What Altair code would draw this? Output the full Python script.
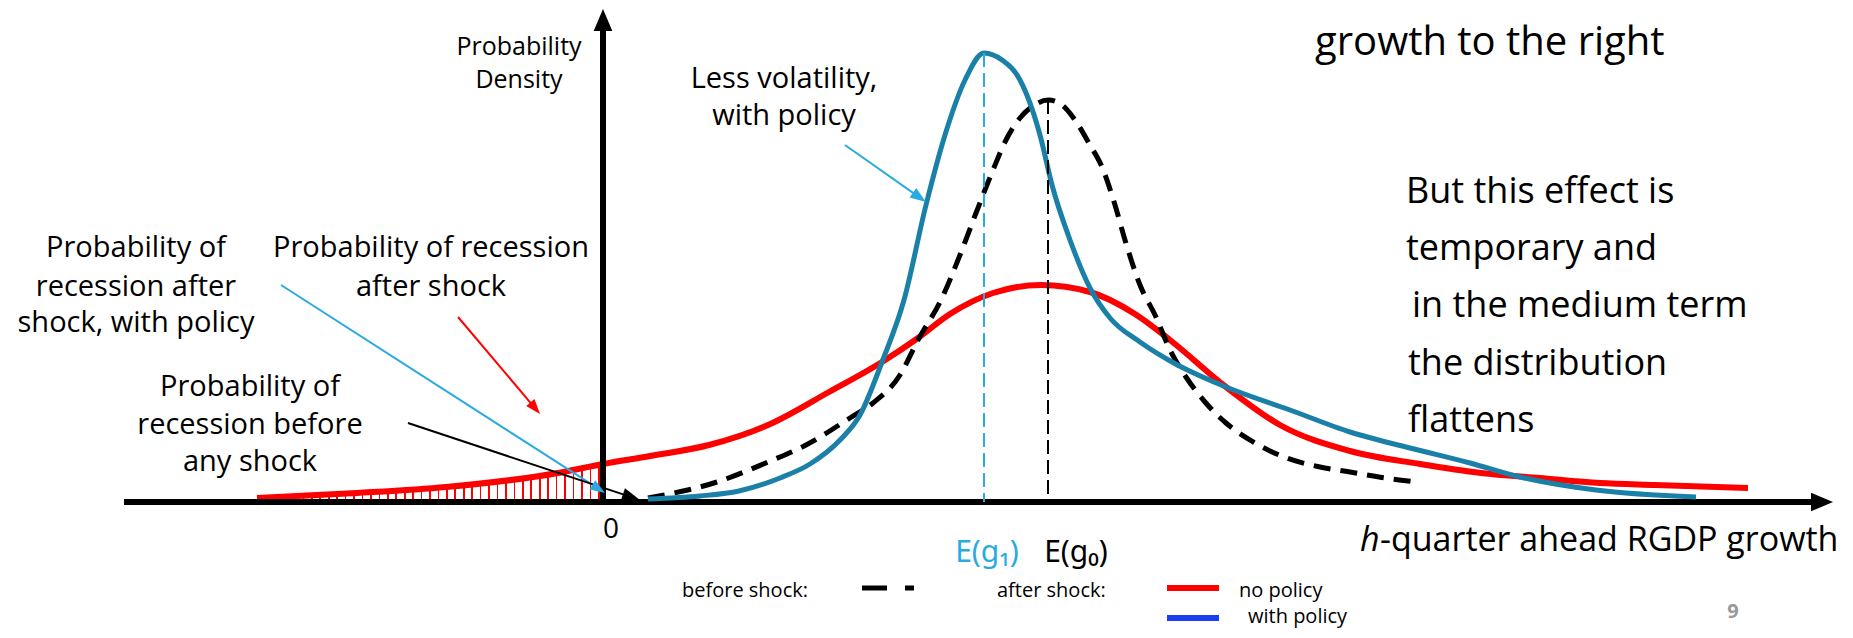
import math
import altair as alt
import pandas as pd

# ---------------- data (x: growth, y: density) ----------------
red_x = [-3.46, -2.46, -1.57, -0.45, 0.00, 0.47, 1.06, 1.65, 2.26, 2.79, 3.15, 3.47, 3.90,
         4.38, 4.87, 5.32, 5.67, 6.23, 6.77, 7.47, 8.17, 8.78, 9.37, 9.97, 10.52, 11.45]
red_y = [0.04, 0.09, 0.15, 0.29, 0.38, 0.46, 0.57, 0.77, 1.10, 1.40, 1.64, 1.88, 2.09,
         2.17, 2.10, 1.88, 1.62, 1.15, 0.77, 0.51, 0.38, 0.29, 0.24, 0.19, 0.17, 0.14]

blue_x = [0.45, 0.97, 1.36, 1.77, 2.07, 2.37, 2.57, 2.79, 3.01, 3.23, 3.42, 3.62, 3.81, 3.99, 4.17,
          4.37, 4.49, 4.67, 4.87, 5.07, 5.37, 5.69, 6.23, 6.87, 7.47, 8.07, 8.67, 9.17, 9.93, 10.93]
blue_y = [0.03, 0.06, 0.11, 0.24, 0.38, 0.62, 0.87, 1.40, 2.02, 2.97, 3.67, 4.22, 4.49, 4.42, 4.22,
          3.67, 3.17, 2.62, 2.14, 1.84, 1.60, 1.40, 1.15, 0.92, 0.70, 0.54, 0.39, 0.25, 0.12, 0.05]

black_x = [0.45, 1.14, 1.65, 2.03, 2.47, 2.70, 2.97, 3.15, 3.38, 3.57, 3.73, 3.90, 4.03, 4.17, 4.30, 4.45, 4.59,
           4.72, 4.87, 4.99, 5.12, 5.22, 5.37, 5.53, 5.67, 5.83, 6.02, 6.23, 6.52, 6.81, 7.17, 7.47, 7.82, 8.14]
black_y = [0.04, 0.20, 0.40, 0.57, 0.84, 0.99, 1.27, 1.62, 2.02, 2.47, 2.89, 3.32, 3.62, 3.84, 3.96, 4.02, 3.97,
           3.82, 3.57, 3.35, 2.97, 2.62, 2.17, 1.85, 1.52, 1.25, 1.00, 0.79, 0.59, 0.45, 0.35, 0.30, 0.24, 0.20]

# expected values E(g1), E(g0) and the densities at them
mean_x = [3.81, 4.45]
mean_top = [4.49, 4.02]
mean_bottom = [0.00, 0.07]
mean_color = ["#29abe2", "#000000"]

# annotation arrows (start -> tip)
arrow_x0 = [-3.22, -1.45, -1.95, 2.42]
arrow_y0 = [2.17, 1.85, 0.79, 3.57]
arrow_x1 = [0.02, -0.63, 0.37, 3.23]
arrow_y1 = [0.09, 0.88, 0.02, 3.00]
arrow_color = ["#29abe2", "#ff0000", "#000000", "#29abe2"]
arrow_head = [15, 15, 18, 16]

# axes (start -> tip)
axis_x0 = [-4.79, 0.00]
axis_y0 = [0.00, 0.00]
axis_x1 = [12.30, 0.00]
axis_y1 = [0.00, 4.93]

# texts
label_text = ["Probability of", "recession after", "shock, with policy",
              "Probability of recession", "after shock",
              "Probability of", "recession before", "any shock",
              "Less volatility,", "with policy"]
label_x = [-4.67, -4.67, -4.67, -1.72, -1.72, -3.53, -3.53, -3.53, 1.81, 1.81]
label_y = [2.45, 2.06, 1.70, 2.45, 2.06, 1.06, 0.68, 0.31, 4.14, 3.77]

ylab_text = ["Probability", "Density"]
ylab_x = [-0.84, -0.84]
ylab_y = [4.47, 4.14]

right_text = ["But this effect is", "temporary and", "in the medium term", "the distribution", "flattens"]
right_x = [8.03, 8.03, 8.09, 8.05, 8.05]
right_y = [2.99, 2.42, 1.85, 1.27, 0.70]

top_text = ["growth to the right"]
top_x = [7.12]
top_y = [4.47]

mean_label = ["E(g\u2081)", "E(g\u2080)"]
mean_label_x = [3.84, 4.73]
mean_label_y = [-0.60, -0.60]

# legend
leg_text = ["before shock:", "after shock:", "no policy", "with policy"]
leg_x = [0.79, 3.94, 6.36, 6.45]
leg_y = [-0.95, -0.95, -0.95, -1.21]
leg_dash_x0 = [2.59, 3.02]
leg_dash_x1 = [2.84, 3.11]
leg_dash_y = [-0.86, -0.86]
leg_line_x0 = [5.64, 5.64]
leg_line_x1 = [6.16, 6.16]
leg_line_y = [-0.86, -1.16]
leg_line_color = ["#ff0000", "#1a3ff0"]

# ---------------- scales ----------------
xs = alt.Scale(domain=[-5.95, 12.42], nice=False, zero=False)
ys = alt.Scale(domain=[-1.28, 4.94], nice=False, zero=False)


def X(f="x"):
    return alt.X(f"{f}:Q", scale=xs, axis=None)


def Y(f="y"):
    return alt.Y(f"{f}:Q", scale=ys, axis=None)


FONT = "Open Sans"

red_df = pd.DataFrame({"x": red_x, "y": red_y})
blue_df = pd.DataFrame({"x": blue_x, "y": blue_y})
black_df = pd.DataFrame({"x": black_x, "y": black_y})

# hatching: vertical red stripes as a hard-stop gradient
n_stripes = 41
w = 0.0048
stops = [{"offset": 0.0, "color": "#ffffff"}]
for i in range(n_stripes):
    o = (i + 0.5) / n_stripes
    stops += [{"offset": o - w / 2, "color": "#ffffff"},
              {"offset": o - w / 2, "color": "#ff0000"},
              {"offset": o + w / 2, "color": "#ff0000"},
              {"offset": o + w / 2, "color": "#ffffff"}]
stops.append({"offset": 1.0, "color": "#ffffff"})
stripes = {"gradient": "linear", "x1": 0, "x2": 1, "y1": 0, "y2": 0, "stops": stops}

hatch = (alt.Chart(red_df).transform_filter("datum.x <= 0")
         .transform_calculate(y0="0")
         .mark_area(interpolate="monotone", color=stripes)
         .encode(x=X(), y=Y(), y2=alt.Y2("y0:Q")))

red_line = alt.Chart(red_df).mark_line(color="#ff0000", strokeWidth=6, interpolate="monotone").encode(x=X(), y=Y())
blue_line = alt.Chart(blue_df).mark_line(color="#1b80a8", strokeWidth=5, interpolate="monotone").encode(x=X(), y=Y())
black_line = alt.Chart(black_df).mark_line(color="#000000", strokeWidth=5, strokeDash=[17, 10],
                                           interpolate="monotone").encode(x=X(), y=Y())

mean_df = pd.DataFrame({"x": mean_x, "y": mean_top, "y2": mean_bottom, "c": mean_color})
mean_lines = alt.Chart(mean_df).mark_rule(strokeWidth=2, strokeDash=[14, 6]).encode(
    x=X(), y=Y(), y2=alt.Y2("y2:Q"), color=alt.Color("c:N", scale=None))


def arrow_frames(x0, y0, x1, y1, heads):
    rows_l, rows_h = [], []
    for a, b, c, d, h in zip(x0, y0, x1, y1, heads):
        L = math.hypot(c - a, d - b)
        ux, uy = (c - a) / L, (d - b) / L
        back = h * 0.5 / 100.0
        rows_l.append({"x": a, "y": b, "x2": c - ux * back, "y2": d - uy * back})
        ang = (math.degrees(math.atan2(c - a, d - b)) + 360) % 360
        rows_h.append({"x": c, "y": d, "angle": ang, "size": h * h})
    return pd.DataFrame(rows_l), pd.DataFrame(rows_h)


al, ah = arrow_frames(arrow_x0, arrow_y0, arrow_x1, arrow_y1, arrow_head)
al["c"] = arrow_color
ah["c"] = arrow_color
arrow_lines = alt.Chart(al).mark_rule(strokeWidth=2).encode(
    x=X(), y=Y(), x2=alt.X2("x2:Q"), y2=alt.Y2("y2:Q"), color=alt.Color("c:N", scale=None))
arrow_heads = alt.Chart(ah).mark_point(shape="M0,0L0.72,2L-0.72,2Z", filled=True, opacity=1, strokeWidth=0).encode(
    x=X(), y=Y(), angle=alt.Angle("angle:Q", scale=None), size=alt.Size("size:Q", scale=None),
    color=alt.Color("c:N", scale=None))

xl, xh = arrow_frames(axis_x0, axis_y0, axis_x1, axis_y1, [22, 22])
axis_lines = alt.Chart(xl).mark_rule(strokeWidth=6, color="#000000").encode(
    x=X(), y=Y(), x2=alt.X2("x2:Q"), y2=alt.Y2("y2:Q"))
axis_heads = alt.Chart(xh).mark_point(shape="M0,0L0.85,2L-0.85,2Z", filled=True, opacity=1, strokeWidth=0,
                                      color="#000000").encode(
    x=X(), y=Y(), angle=alt.Angle("angle:Q", scale=None), size=alt.Size("size:Q", scale=None))


def txt(texts, xv, yv, align="center", size=28, color="#000000", font=FONT, style="normal", weight="normal"):
    df = pd.DataFrame({"x": xv, "y": yv, "t": texts})
    return alt.Chart(df).mark_text(align=align, baseline="alphabetic", fontSize=size, font=font, color=color,
                                   fontStyle=style, fontWeight=weight).encode(x=X(), y=Y(), text="t:N")


labels = txt(label_text, label_x, label_y, size=29)
ylabels = txt(ylab_text, ylab_x, ylab_y, size=25)
right = txt(right_text, right_x, right_y, align="left", size=36)
top = txt(top_text, top_x, top_y, align="left", size=40)
zero = txt(["0"], [0.08], [-0.36], size=28)
m1 = txt([mean_label[0]], [mean_label_x[0]], [mean_label_y[0]], size=30, color="#29abe2", font="Noto Sans")
m0 = txt([mean_label[1]], [mean_label_x[1]], [mean_label_y[1]], size=30, color="#000000", font="Noto Sans")
xh_italic = txt(["h"], [7.57], [-0.49], align="left", size=34, style="italic")
xt = txt(["-quarter ahead RGDP growth"], [7.77], [-0.49], align="left", size=34)
legend_text = txt(leg_text, leg_x, leg_y, align="left", size=20)
page = txt(["9"], [11.30], [-1.16], size=20, color="#999999", weight="bold")

ld = pd.DataFrame({"x": leg_dash_x0, "x2": leg_dash_x1, "y": leg_dash_y})
legend_dash = alt.Chart(ld).mark_rule(strokeWidth=5, color="#000000").encode(x=X(), x2=alt.X2("x2:Q"), y=Y())
ll = pd.DataFrame({"x": leg_line_x0, "x2": leg_line_x1, "y": leg_line_y, "c": leg_line_color})
legend_lines = alt.Chart(ll).mark_rule(strokeWidth=6).encode(
    x=X(), x2=alt.X2("x2:Q"), y=Y(), color=alt.Color("c:N", scale=None))

chart = alt.layer(
    hatch, red_line, axis_lines, axis_heads, black_line, blue_line, mean_lines,
    arrow_lines, arrow_heads,
    labels, ylabels, right, top, zero, m1, m0, xh_italic, xt,
    legend_text, legend_dash, legend_lines, page,
).properties(
    width=1837, height=622, padding=0, background="white",
    autosize=alt.AutoSizeParams(type="none"),
).configure_view(stroke=None)

chart.save("out.html", embed_options={"renderer": "svg", "actions": False})
